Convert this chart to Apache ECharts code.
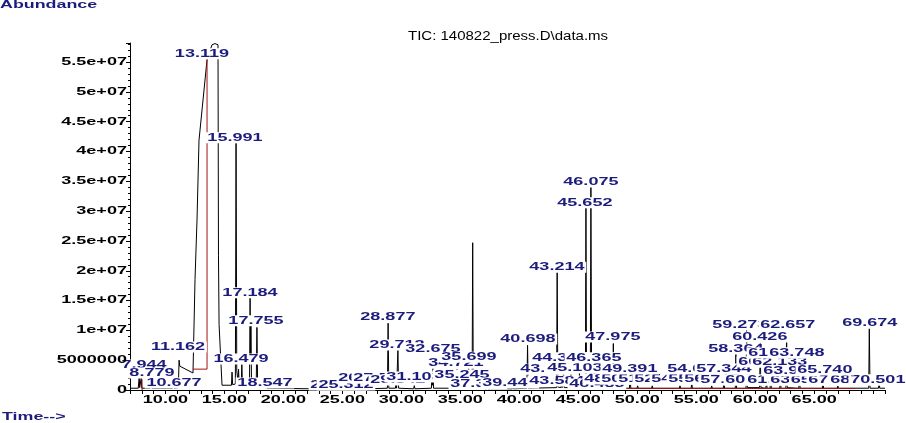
<!DOCTYPE html>
<html><head><meta charset="utf-8">
<script src="https://cdn.jsdelivr.net/npm/echarts@6/dist/echarts.min.js"></script>
<style>html,body{margin:0;padding:0;background:#fff}#c{width:906px;height:423px}</style>
</head><body><div id="c"></div>
<script>
// ---- axis ticks ----
const xMin = 7, xMax = 71;
const xTickValues = [10, 15, 20, 25, 30, 35, 40, 45, 50, 55, 60, 65];
const xTickLabels = ['10.00','15.00','20.00','25.00','30.00','35.00','40.00','45.00','50.00','55.00','60.00','65.00'];
const yTickValues = [0, 5e6, 1e7, 1.5e7, 2e7, 2.5e7, 3e7, 3.5e7, 4e7, 4.5e7, 5e7, 5.5e7];
const yTickLabels = ['0','5000000','1e+07','1.5e+07','2e+07','2.5e+07','3e+07','3.5e+07','4e+07','4.5e+07','5e+07','5.5e+07'];
const yMax = 5.82e7;

// ---- TIC trace: [time (min), abundance] ----
const tracePoints = [
 [7.0,3e5],[7.7,3e5],[7.78,2.3e6],[7.82,4e5],[7.9,4e5],[7.95,2.0e6],[8.0,3e5],
 [8.7,3e5],[8.78,9e5],[8.85,3e5],[10.6,3e5],[10.68,9e5],[10.75,3e5],
 [11.1,4e5],[11.16,5.0e6],[11.22,4.0e6],[11.3,3.8e6],[12.34,2.85e6],
 [12.51,1.85e7],[12.68,2.85e7],[12.85,4.19e7],[13.53,5.54e7],[13.95,5.79e7],[14.2,5.81e7],[14.46,5.79e7],
 [14.5,2.25e7],[14.55,1.1e7],[14.8,8e5],
 [15.6,8e5],[15.65,3.0e6],[15.7,9e5],[15.93,1.0e6],[15.99,4.14e7],[16.05,3.2e6],
 [16.15,1.5e6],[16.2,3.5e6],[16.25,1.2e6],[16.43,1.0e6],[16.48,4.3e6],[16.53,1.0e6],
 [17.13,8e5],[17.18,1.55e7],[17.22,6.0e6],[17.25,1.2e7],[17.3,1.0e6],
 [17.7,8e5],[17.76,1.05e7],[17.82,8e5],[18.5,4e5],[18.55,1.0e6],[18.6,3e5],
 [22.45,2e5],[22.52,6e5],[22.6,2e5],[23.3,2e5],[23.38,4e5],[23.45,2e5],
 [25.25,2e5],[25.32,5e5],[25.4,2e5],[26.15,2e5],[26.21,7e5],[26.28,2e5],
 [27.15,2e5],[27.2,5e5],[27.26,2e5],
 [28.82,3e5],[28.88,1.12e7],[28.94,3e5],[29.5,3e5],[29.54,1.0e6],[29.6,3e5],
 [29.66,3e5],[29.71,6.7e6],[29.77,3e5],[31.05,2e5],[31.1,8e5],[31.15,2e5],
 [32.55,3e5],[32.6,3.0e6],[32.64,8e5],[32.68,4.2e6],[32.73,3e5],
 [34.67,3e5],[34.72,3.5e6],[34.77,3e5],[35.2,3e5],[35.25,1.8e6],[35.3,3e5],
 [35.65,3e5],[35.7,4.8e6],[35.75,4e5],[36.0,4e5],[36.05,2.47e7],[36.1,4e5],
 [37.25,2e5],[37.3,6e5],[37.35,2e5],[39.4,2e5],[39.45,8e5],[39.5,2e5],
 [40.64,3e5],[40.7,7.5e6],[40.76,3e5],
 [43.16,4e5],[43.21,2.0e7],[43.27,5e5],[43.53,4e5],[43.58,1.3e6],[43.63,4e5],
 [43.71,4e5],[43.76,3.0e6],[43.81,4e5],[44.33,4e5],[44.38,4.0e6],[44.43,4e5],
 [45.05,4e5],[45.1,3.0e6],[45.15,5e5],[45.6,5e5],[45.65,3.05e7],[45.7,1.5e6],
 [46.02,1.5e6],[46.07,3.41e7],[46.13,1.2e6],[46.3,8e5],[46.36,4.5e6],[46.42,6e5],
 [46.45,6e5],[46.48,1.0e6],[46.53,4e5],
 [47.92,4e5],[47.97,7.8e6],[48.03,4e5],[48.5,3e5],[48.55,9e5],[48.6,3e5],
 [49.34,3e5],[49.39,2.5e6],[49.45,3e5],[49.98,3e5],[50.03,7e5],[50.08,3e5],
 [51.22,3e5],[51.27,7e5],[51.32,3e5],[52.36,3e5],[52.41,6e5],[52.46,3e5],
 [53.57,3e5],[53.62,7e5],[53.67,3e5],[54.57,3e5],[54.62,1.2e6],[54.67,3e5],
 [54.98,3e5],[55.03,6e5],[55.08,3e5],[56.26,3e5],[56.31,7e5],[56.36,3e5],
 [57.3,3e5],[57.34,2.5e6],[57.4,3e5],[58.31,3e5],[58.36,6.2e6],[58.42,3e5],
 [59.22,3e5],[59.27,1.04e7],[59.33,4e5],[60.37,4e5],[60.43,7.9e6],[60.48,4e5],
 [60.9,3e5],[60.96,1.8e6],[61.0,3e5],[61.26,3e5],[61.31,2.2e6],[61.36,3e5],
 [62.08,3e5],[62.13,2.8e6],[62.18,3e5],[62.6,3e5],[62.66,9.6e6],[62.71,4e5],
 [63.7,3e5],[63.75,5.0e6],[63.8,3e5],[64.05,3e5],[64.1,6e5],[64.15,3e5],
 [65.69,3e5],[65.74,2.5e6],[65.79,3e5],[66.95,3e5],[67.0,7e5],[67.05,3e5],
 [68.45,3e5],[68.5,6e5],[68.55,3e5],[69.62,3e5],[69.67,1.04e7],[69.73,3e5],
 [70.45,3e5],[70.5,1.5e6],[70.55,3e5],[71.0,3e5]
];

// ---- red integration marks ----
const redMarkA = [[8.02,0],[8.02,1.8e6]];
const redMarkB = [[12.34,3.5e6],[13.53,3.5e6],[13.53,5.54e7]];
const redMarkC = [[47.0,2.5e5],[68.5,2.5e5]];

// ---- peak labels (draw order): text, time, abundance level ----
const peakLabelTexts = ['7.944','8.779','10.677','11.162','13.119','15.991','16.479','17.184','17.755','18.547',
 '22.478','25.312','26.205','27.583','29.542','28.877','29.712','31.103','32.675','34.721','35.245','35.699',
 '37.305','39.446','40.698','43.214','43.584','44.381','43.762','45.103','45.652','46.075','46.365','46.483','47.975',
 '48.516','50.042','51.585','52.943','54.236','55.671','56.947','57.902','60.215','61.508','63.492','65.117','67.024','68.761','70.501',
 '49.391','54.628','57.344','60.957','62.133','63.982','65.740','58.364','61.312','63.748','60.426','59.273','62.657','69.674'];
const peakLabelTimes = [8.19,8.86,10.73,11.07,13.1,15.9,16.41,17.17,17.68,18.44,
 24.63,25.31,27.0,28.27,29.71,28.86,29.63,31.07,32.68,34.63,35.14,35.73,
 36.49,39.2,40.73,43.19,43.19,43.44,42.42,44.71,45.56,46.07,46.32,46.58,47.93,
 47.85,49.29,50.73,52.08,53.53,54.97,56.32,57.68,59.8,61.66,63.61,65.31,66.83,68.69,70.39,
 49.37,54.88,57.34,60.9,62.08,63.02,65.9,58.36,61.75,63.53,60.39,58.69,62.76,69.71];
const peakLabelLevels = [4.2e6,2.85e6,1.17e6,7.2e6,5.64e7,4.23e7,5.2e6,1.63e7,1.16e7,1.17e6,
 0.84e6,0.84e6,2.0e6,2.0e6,1.68e6,1.22e7,7.55e6,2.18e6,6.9e6,4.5e6,2.5e6,5.5e6,
 1.0e6,1.17e6,8.56e6,2.06e7,1.5e6,5.4e6,3.5e6,3.7e6,3.14e7,3.49e7,5.4e6,1.0e6,8.9e6,
 1.85e6,1.85e6,1.85e6,1.85e6,1.85e6,1.85e6,1.85e6,1.68e6,1.68e6,1.68e6,1.68e6,1.68e6,1.68e6,1.68e6,1.68e6,
 3.52e6,3.52e6,3.52e6,4.7e6,4.7e6,3.19e6,3.36e6,6.88e6,6.2e6,6.2e6,8.89e6,1.09e7,1.09e7,1.12e7];

const NAVY = '#1c1c7c';
const FONT = 'bold 10.5px "Liberation Sans", Arial, sans-serif';
const SX = 1.72;

const chart = echarts.init(document.getElementById('c'), null, {renderer: 'canvas'});

const redSeries = [redMarkA, redMarkB, redMarkC].map(d => ({
  type: 'line', data: d, showSymbol: false, silent: true, z: 3,
  lineStyle: {color: '#a41010', width: 1}
}));

chart.setOption({
  animation: false,
  backgroundColor: '#fff',
  grid: {left: 130, right: 21, top: 43, bottom: 33},
  xAxis: {
    type: 'value', min: xMin, max: xMax, interval: 1,
    axisLine: {lineStyle: {color: '#000', width: 1}},
    axisTick: {show: true, length: 4, lineStyle: {color: '#000'}},
    axisLabel: {show: false}, splitLine: {show: false}
  },
  yAxis: {
    type: 'value', min: 0, max: yMax, interval: 5e6,
    axisLine: {show: true, lineStyle: {color: '#000', width: 1}},
    axisTick: {show: true, length: 4, lineStyle: {color: '#000'}},
    minorTick: {show: true, splitNumber: 5, length: 2, lineStyle: {color: '#000'}},
    axisLabel: {show: false}, splitLine: {show: false}
  },
  graphic: [
    {type: 'text', x: 408, y: 37, scaleX: 1.25, z: 100,
     style: {text: 'TIC: 140822_press.D\\data.ms', font: '12px "Liberation Sans", Arial, sans-serif', fill: '#000', align: 'left', verticalAlign: 'middle'}},
    {type: 'text', x: 0, y: 5, scaleX: 1.7, z: 100,
     style: {text: 'Abundance', font: FONT, fill: NAVY, align: 'left', verticalAlign: 'middle'}},
    {type: 'text', x: 2, y: 417, scaleX: 1.7, z: 100,
     style: {text: 'Time-->', font: FONT, fill: NAVY, align: 'left', verticalAlign: 'middle'}}
  ],
  series: [
    {type: 'line', data: tracePoints, showSymbol: false, silent: true, z: 2,
     lineStyle: {color: '#000', width: 1}},
    ...redSeries,
    {type: 'custom', silent: true, clip: false, z: 10,
     data: peakLabelTimes.map((t, i) => [t, peakLabelLevels[i]]),
     renderItem: (params, api) => {
       const p = api.coord([api.value(0), api.value(1)]);
       return {type: 'text', x: p[0], y: p[1], scaleX: SX,
         style: {text: peakLabelTexts[params.dataIndex], font: FONT, fill: NAVY,
           align: 'center', verticalAlign: 'middle', backgroundColor: '#fff', padding: [0, 1]}};
     }},
    {type: 'custom', silent: true, clip: false, z: 10,
     data: xTickValues.map(v => [v, 0]),
     renderItem: (params, api) => {
       const p = api.coord([api.value(0), 0]);
       return {type: 'text', x: p[0], y: p[1] + 10, scaleX: SX,
         style: {text: xTickLabels[params.dataIndex], font: FONT, fill: '#000', align: 'center', verticalAlign: 'middle'}};
     }},
    {type: 'custom', silent: true, clip: false, z: 10,
     data: yTickValues.map(v => [xMin, v]),
     renderItem: (params, api) => {
       const p = api.coord([xMin, api.value(1)]);
       return {type: 'text', x: p[0] - 3, y: p[1], scaleX: 1.72,
         style: {text: yTickLabels[params.dataIndex], font: FONT, fill: '#000', align: 'right', verticalAlign: 'middle'}};
     }}
  ]
});
</script>
</body></html>
